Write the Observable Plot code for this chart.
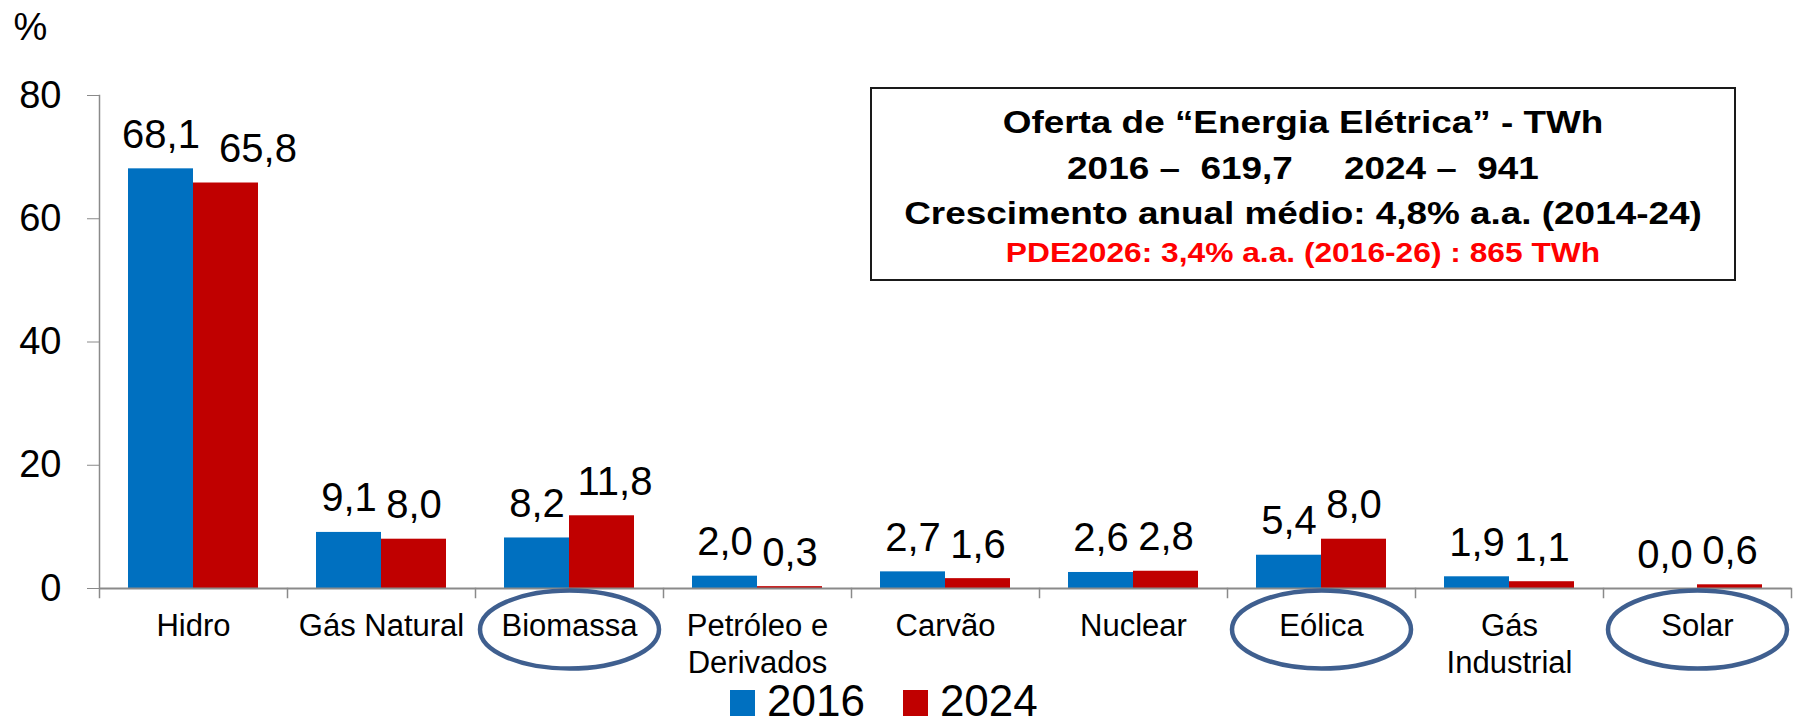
<!DOCTYPE html>
<html>
<head>
<meta charset="utf-8">
<script src="https://cdn.jsdelivr.net/npm/d3@7"></script>
<script src="https://cdn.jsdelivr.net/npm/@observablehq/plot@0.6"></script>
<style>
html, body { margin: 0; padding: 0; background: #fff; }
#wrap { position: relative; width: 1793px; height: 725px; overflow: hidden; font-family: "Liberation Sans", Arial, sans-serif; }
#box { position: absolute; left: 870px; top: 87px; width: 862px; height: 190px; border: 2.5px solid #1a1a1a; background: #fff; }
.ln { position: absolute; left: 0; right: 0; text-align: center; font-weight: bold; white-space: pre; line-height: 1; transform-origin: 50% 50%; color: #000; }
#legend { height: 20px; line-height: 20px; font-size: 44px; padding-left: 730px; white-space: nowrap; color: #000; }
.sw { display: inline-block; width: 25px; height: 26px; vertical-align: baseline; margin-right: 12px; }
</style>
</head>
<body>
<div id="wrap"></div>
<script>
// ---- data ----
const categories = ["Hidro", "Gás Natural", "Biomassa", "Petróleo e Derivados", "Carvão", "Nuclear", "Eólica", "Gás Industrial", "Solar"];
const categoryLabels = ["Hidro", "Gás Natural", "Biomassa", "Petróleo e\nDerivados", "Carvão", "Nuclear", "Eólica", "Gás\nIndustrial", "Solar"];
const years = ["2016", "2024"];
const share2016 = [68.1, 9.1, 8.2, 2.0, 2.7, 2.6, 5.4, 1.9, 0.0];
const share2024 = [65.8, 8.0, 11.8, 0.3, 1.6, 2.8, 8.0, 1.1, 0.6];
const highlighted = ["Biomassa", "Eólica", "Solar"];
const yTicks = [0, 20, 40, 60, 80];
const yLabel = "%";
const yearColors = ["#0070C0", "#C00000"];
const boxLines = [
  "Oferta de “Energia Elétrica” - TWh",
  "2016 –  619,7     2024 –  941",
  "Crescimento anual médio: 4,8% a.a. (2014-24)",
  "PDE2026: 3,4% a.a. (2016-26) : 865 TWh"
];

// ---- table for the library ----
const rows = categories.flatMap((c, i) => [
  {category: c, year: years[0], value: share2016[i]},
  {category: c, year: years[1], value: share2024[i]}
]);
const labelOf = Object.fromEntries(categories.map((c, i) => [c, categoryLabels[i]]));
const fmt = v => v.toFixed(1).replace(".", ",");

const W = 1793, H = 690, MT = 95, MB = 102, ML = 98, MR = 2;
const gray = "#8a8a8a";

// ellipse symbol (used to circle highlighted categories)
const ellipse = {
  draw(ctx, size) {
    const a = Math.sqrt(size / Math.PI), b = a * 0.436, k = 0.5523;
    ctx.moveTo(a, 0);
    ctx.bezierCurveTo(a, b * k, a * k, b, 0, b);
    ctx.bezierCurveTo(-a * k, b, -a, b * k, -a, 0);
    ctx.bezierCurveTo(-a, -b * k, -a * k, -b, 0, -b);
    ctx.bezierCurveTo(a * k, -b, a, -b * k, a, 0);
    ctx.closePath();
  }
};

// labels of 2024 bars that sit next to a taller 2016 label are pushed right (as in the source chart)
const crowded = rows.filter(d => d.year === "2024" && (d.category === "Hidro"));
const crowded2 = rows.filter(d => d.year === "2024" && (d.category === "Biomassa"));
const regular = rows.filter(d => !crowded.includes(d) && !crowded2.includes(d));

const labelStyle = {fx: "category", x: "year", y: "value", text: d => fmt(d.value),
  lineAnchor: "bottom", fontSize: 40, fill: "black"};

const chart = Plot.plot({
  width: W, height: H,
  marginTop: MT, marginBottom: MB, marginLeft: ML, marginRight: MR,
  style: {fontFamily: "Liberation Sans, Arial, sans-serif", background: "white", color: "black", overflow: "visible"},
  fx: {domain: categories, padding: 0, label: null},
  x: {domain: years, paddingInner: 0, paddingOuter: 0.446, axis: null},
  y: {domain: [0, 80]},
  color: {domain: years, range: yearColors},
  marks: [
    Plot.barY(rows, {fx: "category", x: "year", y: "value", fill: "year"}),
    Plot.ruleY([0], {stroke: gray, strokeWidth: 2}),
    Plot.frame({anchor: "left", facetAnchor: "left", stroke: gray, strokeWidth: 1.5, insetBottom: -9}),
    Plot.frame({anchor: "right", stroke: gray, strokeWidth: 1.5, insetTop: H - MT - MB, insetBottom: -9}),
    Plot.axisY({ticks: yTicks, tickSize: 12, tickPadding: 26, stroke: gray, fill: "black", fontSize: 38,
      tickFormat: d => String(d), label: null}),
    Plot.text([yLabel], {frameAnchor: "top-left", facetAnchor: "left", textAnchor: "start", lineAnchor: "bottom",
      dx: -86, dy: -56, fontSize: 38, fill: "black"}),
    Plot.axisFx({anchor: "bottom", tickSize: 0, tickPadding: 22, fontSize: 31, lineHeight: 1.18, fill: "black",
      tickFormat: d => labelOf[d], label: null}),
    Plot.text(regular, {...labelStyle, dy: -21}),
    Plot.text(crowded, {...labelStyle, dy: -21, dx: 32}),
    Plot.text(crowded2, {...labelStyle, dy: -21, dx: 13}),
    Plot.dot(highlighted, {fx: d => d, frameAnchor: "bottom", dy: 41, r: 89.5, symbol: ellipse,
      stroke: "#3F5F8F", strokeWidth: 4.5, fill: "none"})
  ]
});

const wrap = document.getElementById("wrap");
wrap.appendChild(chart);

// legend (below the svg)
const legend = document.createElement("div");
legend.id = "legend";
years.forEach((y, i) => {
  const sw = document.createElement("span");
  sw.className = "sw";
  sw.style.background = yearColors[i];
  legend.appendChild(sw);
  const t = document.createElement("span");
  t.textContent = y;
  if (i < years.length - 1) t.style.marginRight = "38px";
  legend.appendChild(t);
});
wrap.appendChild(legend);

// annotation box
const box = document.createElement("div");
box.id = "box";
const lineSpecs = [
  {top: 18.3, size: 31, sx: 1.19, color: "#000"},
  {top: 64.3, size: 31, sx: 1.19, color: "#000"},
  {top: 109.3, size: 31, sx: 1.19, color: "#000"},
  {top: 150.9, size: 27, sx: 1.175, color: "#FF0000"}
];
boxLines.forEach((txt, i) => {
  const d = document.createElement("div");
  d.className = "ln";
  d.textContent = txt;
  const s = lineSpecs[i];
  d.style.top = s.top + "px";
  d.style.fontSize = s.size + "px";
  d.style.color = s.color;
  d.style.transform = `scaleX(${s.sx})`;
  box.appendChild(d);
});
wrap.appendChild(box);
</script>
</body>
</html>
